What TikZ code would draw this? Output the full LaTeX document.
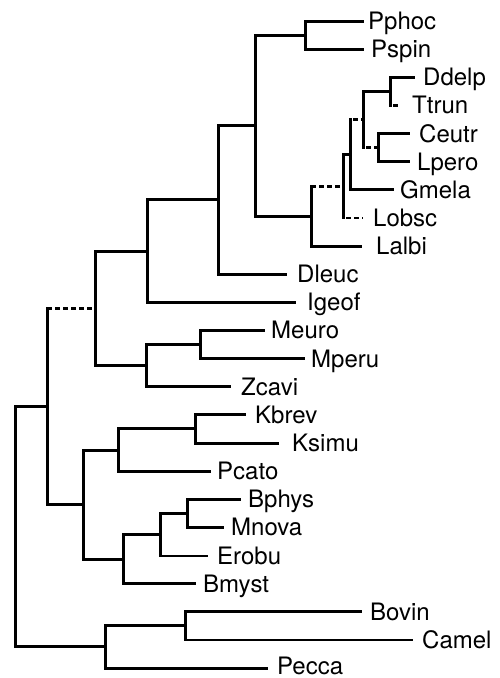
\documentclass[tikz,border=0pt]{standalone}
\usepackage{fontspec}
\setmainfont{TeX Gyre Heros}
\begin{document}
\begin{tikzpicture}[x=1pt,y=-1pt,
  br/.style={line width=3pt, line join=miter, line cap=rect},
  thin br/.style={line width=2pt, line cap=rect},
  dsh/.style={line width=2.4pt, dash pattern=on 5pt off 3pt},
  lab/.style={anchor=base west, inner sep=0pt, font=\fontsize{24}{28}\selectfont}]
\useasboundingbox (0,0) rectangle (500,678);
% leaf tips
\coordinate (tPphoc) at (362,21);
\coordinate (tPspin) at (362,49.1);
\coordinate (tDdelp) at (413,77.3);
\coordinate (tTtrun) at (400,105.4);
\coordinate (tCeutr) at (408,133.5);
\coordinate (tLpero) at (408,161.7);
\coordinate (tGmela) at (392,189.8);
\coordinate (tLobsc) at (363,217.9);
\coordinate (tLalbi) at (360,246.0);
\coordinate (tDleuc) at (285,274.2);
\coordinate (tIgeof) at (294,302.3);
\coordinate (tMeuro) at (263,330.4);
\coordinate (tMperu) at (303,358.6);
\coordinate (tZcavi) at (229,386.7);
\coordinate (tKbrev) at (244,414.8);
\coordinate (tKsimu) at (277,443.0);
\coordinate (tPcato) at (209,471.1);
\coordinate (tBphys) at (239,499.2);
\coordinate (tMnova) at (222,527.3);
\coordinate (tErobu) at (207,555.5);
\coordinate (tBmyst) at (194,583.6);
\coordinate (tBovin) at (360,611.7);
\coordinate (tCamel) at (412,639.9);
\coordinate (tPecca) at (266,668.0);
% labels
\node[lab] (Pphoc) at (368,29.5) {Pphoc};
\node[lab] (Pspin) at (371,57.6) {Pspin};
\node[lab] (Ddelp) at (423,85.8) {Ddelp};
\node[lab] (Ttrun) at (412,113.9) {Ttrun};
\node[lab] (Ceutr) at (419,142.0) {Ceutr};
\node[lab] (Lpero) at (417,170.2) {Lpero};
\node[lab] (Gmela) at (400,198.3) {Gmela};
\node[lab] (Lobsc) at (373,226.4) {Lobsc};
\node[lab] (Lalbi) at (376,254.5) {Lalbi};
\node[lab] (Dleuc) at (297,282.7) {Dleuc};
\node[lab] (Igeof) at (307,310.8) {Igeof};
\node[lab] (Meuro) at (271,338.9) {Meuro};
\node[lab] (Mperu) at (311,367.1) {Mperu};
\node[lab] (Zcavi) at (241,395.2) {Zcavi};
\node[lab] (Kbrev) at (255,423.3) {Kbrev};
\node[lab] (Ksimu) at (292,451.5) {Ksimu};
\node[lab] (Pcato) at (217,479.6) {Pcato};
\node[lab] (Bphys) at (248,507.7) {Bphys};
\node[lab] (Mnova) at (231,535.8) {Mnova};
\node[lab] (Erobu) at (217,564.0) {Erobu};
\node[lab] (Bmyst) at (203,592.1) {Bmyst};
\node[lab] (Bovin) at (370,620.2) {Bovin};
\node[lab] (Camel) at (422,648.4) {Camel};
\node[lab] (Pecca) at (277,674.5) {Pecca};
% internal nodes
\coordinate (PP) at (305,35);
\coordinate (DT) at (390,91.3);
\coordinate (CL) at (378,147.6);
\coordinate (P) at (363,119.5);
\coordinate (Q) at (350,154.6);
\coordinate (J) at (343,186.3);
\coordinate (I) at (311,216.1);
\coordinate (H) at (255,125.6);
\coordinate (G) at (218,199.9);
\coordinate (E) at (147,251.1);
\coordinate (MM) at (200,344.5);
\coordinate (F) at (146,365.6);
\coordinate (C) at (95,308.4);
\coordinate (KK) at (195,428.9);
\coordinate (K) at (118,450);
\coordinate (BM) at (187,513.3);
\coordinate (M) at (160,534.4);
\coordinate (L) at (123,559);
\coordinate (D) at (83,504.5);
\coordinate (A) at (47,406.5);
\coordinate (BC) at (185,625.8);
\coordinate (B) at (105,646.9);
\coordinate (R) at (15,526.7);
% branches
\draw[br] (tPphoc) -- (PP |- tPphoc) -- (PP |- tPspin) -- (tPspin);
\draw[br] (tDdelp) -- (DT |- tDdelp) -- (DT |- tTtrun);
\draw[dsh, dash phase=5pt] (DT |- tTtrun) -- (tTtrun);
\draw[br] (tCeutr) -- (CL |- tCeutr) -- (CL |- tLpero) -- (tLpero);
\draw[br] (DT) -- (P |- DT) -- (P |- CL);
\draw[dsh, dash phase=5pt] (P |- CL) -- (CL);
\draw[br] (Q |- P) -- (Q |- tGmela) -- (tGmela);
\draw[dsh, dash phase=5pt] (Q |- P) -- (P);
\draw[br] (Q) -- (J |- Q) -- (J |- tLobsc);
\draw[dsh, dash phase=5pt] (J |- tLobsc) -- (tLobsc);
\draw[br] (I |- J) -- (I |- tLalbi) -- (tLalbi);
\draw[dsh] (I |- J) -- (J);
\draw[br] (PP) -- (H |- PP) -- (H |- I) -- (I);
\draw[br] (H) -- (G |- H) -- (G |- tDleuc) -- (tDleuc);
\draw[br] (G) -- (E |- G) -- (E |- tIgeof) -- (tIgeof);
\draw[br] (tMeuro) -- (MM |- tMeuro) -- (MM |- tMperu) -- (tMperu);
\draw[br] (MM) -- (F |- MM) -- (F |- tZcavi) -- (tZcavi);
\draw[br] (E) -- (C |- E) -- (C |- F) -- (F);
\draw[br] (tKbrev) -- (KK |- tKbrev) -- (KK |- tKsimu) -- (tKsimu);
\draw[br] (KK) -- (K |- KK) -- (K |- tPcato) -- (tPcato);
\draw[br] (tBphys) -- (BM |- tBphys) -- (BM |- tMnova) -- (tMnova);
\draw[br] (BM) -- (M |- BM) -- (M |- tErobu);
\draw[thin br] (M |- tErobu) -- (tErobu);
\draw[br] (M) -- (L |- M) -- (L |- tBmyst) -- (tBmyst);
\draw[br] (K) -- (D |- K) -- (D |- L) -- (L);
\draw[br] (A |- C) -- (A |- D) -- (D);
\draw[dsh] (A |- C) -- (C);
\draw[br] (tBovin) -- (BC |- tBovin) -- (BC |- tCamel);
\draw[thin br] (BC |- tCamel) -- (tCamel);
\draw[br] (BC) -- (B |- BC) -- (B |- tPecca) -- (tPecca);
\draw[br] (A) -- (R |- A) -- (R |- B) -- (B);
\end{tikzpicture}
\end{document}
